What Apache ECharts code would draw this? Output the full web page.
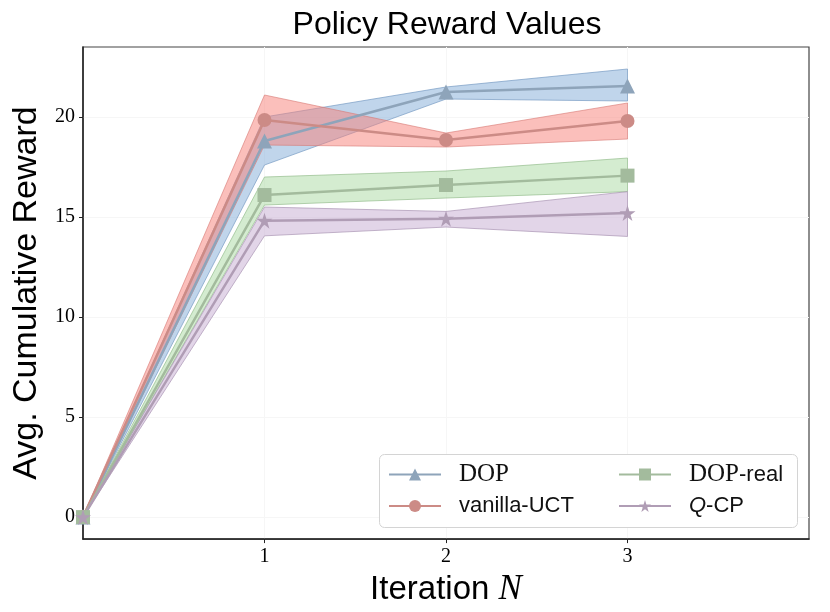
<!DOCTYPE html>
<html>
<head>
<meta charset="utf-8">
<script src="https://cdn.jsdelivr.net/npm/echarts@6/dist/echarts.min.js"></script>
<style>
  html, body { margin: 0; padding: 0; background: #fff; }
  #chart { width: 830px; height: 612px; }
</style>
</head>
<body>
<div id="chart"></div>
<script>
// data
var iterations = [0, 1, 2, 3];

var dopMean  = [0, 18.8, 21.25, 21.55];
var dopLow   = [0, 17.6, 20.9, 20.8];
var dopHigh  = [0, 20.0, 21.5, 22.4];

var uctMean  = [0, 19.85, 18.85, 19.8];
var uctLow   = [0, 18.6, 18.5, 18.9];
var uctHigh  = [0, 21.1, 19.2, 20.7];

var realMean = [0, 16.1, 16.6, 17.07];
var realLow  = [0, 15.6, 15.95, 16.27];
var realHigh = [0, 17.0, 17.3, 17.95];

var qcpMean  = [0, 14.82, 14.92, 15.2];
var qcpLow   = [0, 14.06, 14.5, 14.03];
var qcpHigh  = [0, 15.5, 15.28, 16.27];

var xTickValues = [1, 2, 3];
var yTickValues = [0, 5, 10, 15, 20];

var starPath = 'path://M0,-10 L2.245,-3.09 L9.511,-3.09 L3.633,1.18 L5.878,8.09 L0,3.82 L-5.878,8.09 L-3.633,1.18 L-9.511,-3.09 L-2.245,-3.09 Z';

var sans = 'Liberation Sans';
var serif = 'Liberation Serif';

var toPoints = function (ys) {
    return iterations.map(function (x, i) { return [x, ys[i]]; });
};

// shaded band between low and high, one polygon through the axes' scales
var bandSeries = function (lo, hi, fill, edge) {
    return {
        type: 'custom',
        silent: true,
        clip: true,
        z: 1,
        data: [[0, 0]],
        renderItem: function (params, api) {
            var pts = [];
            for (var i = 0; i < iterations.length; i++) {
                pts.push(api.coord([iterations[i], lo[i]]));
            }
            for (var j = iterations.length - 1; j >= 0; j--) {
                pts.push(api.coord([iterations[j], hi[j]]));
            }
            return {
                type: 'polygon',
                shape: { points: pts },
                style: { fill: fill, stroke: edge, lineWidth: 1 }
            };
        }
    };
};

var lineSeries = function (name, ys, color, symbol, size) {
    return {
        name: name,
        type: 'line',
        data: toPoints(ys),
        symbol: symbol,
        symbolSize: size,
        clip: true,
        z: 3,
        lineStyle: { color: color, width: 2.5 },
        itemStyle: { color: color }
    };
};

var legendNames = {
    'DOP': '{rmp|DOP}',
    'vanilla-UCT': '{sfp|vanilla-UCT}',
    'DOP-real': '{rmp|DOP}{sf|-real}',
    'Q-CP': '{itp|Q}{sf|-CP}'
};

var legendText = {
    color: '#111',
    rich: {
        rmp: { fontFamily: serif, fontSize: 25, lineHeight: 20, padding: [0, 0, 0, 13] },
        sfp: { fontFamily: sans, fontSize: 22, lineHeight: 20, padding: [0, 0, 0, 13] },
        itp: { fontFamily: sans, fontStyle: 'italic', fontSize: 22, lineHeight: 20, padding: [0, 0, 0, 13] },
        sf: { fontFamily: sans, fontSize: 22, lineHeight: 20 }
    }
};

var makeLegend = function (names, left) {
    return {
        orient: 'vertical',
        left: left,
        top: 462,
        padding: 0,
        itemGap: 8,
        itemWidth: 52,
        itemHeight: 15,
        z: 10,
        data: names,
        formatter: function (name) { return legendNames[name]; },
        textStyle: legendText
    };
};

var chart = echarts.init(document.getElementById('chart'));
var option = {
    backgroundColor: '#ffffff',
    animation: false,
    title: {
        text: 'Policy Reward Values',
        left: 447,
        top: 9,
        padding: 0,
        textAlign: 'center',
        textStyle: { fontFamily: sans, fontSize: 32, fontWeight: 'normal', color: '#000' }
    },
    grid: {
        left: 83,
        right: 21,
        top: 47,
        bottom: 72,
        show: true,
        borderColor: '#444',
        borderWidth: 1.2,
        containLabel: false
    },
    graphic: [{
        type: 'rect',
        z: 3,
        silent: true,
        shape: { x: 379.5, y: 454.5, width: 418, height: 73, r: 5 },
        style: { fill: '#ffffff', stroke: '#d4d4d4', lineWidth: 1 }
    }],
    legend: [
        makeLegend(['DOP', 'vanilla-UCT'], 388),
        makeLegend(['DOP-real', 'Q-CP'], 618)
    ],
    xAxis: {
        type: 'value',
        min: 0,
        max: 4,
        interval: 1,
        name: 'Iteration {n|N}',
        nameLocation: 'middle',
        nameGap: 28,
        nameTextStyle: {
            fontFamily: sans, fontSize: 33, color: '#000',
            rich: { n: { fontFamily: serif, fontStyle: 'italic', fontSize: 35 } }
        },
        axisLine: { show: true, onZero: false, lineStyle: { color: '#222', width: 1.5 } },
        axisTick: { show: true, inside: false, length: 4, customValues: xTickValues, lineStyle: { color: '#222' } },
        axisLabel: { customValues: xTickValues, margin: 8, fontFamily: serif, fontSize: 20, color: '#000' },
        splitLine: { show: true, lineStyle: { color: '#f6f6f6', width: 1 } }
    },
    yAxis: {
        type: 'value',
        min: -1.1,
        max: 23.5,
        name: 'Avg. Cumulative Reward',
        nameLocation: 'middle',
        nameGap: 28,
        nameTextStyle: { fontFamily: sans, fontSize: 34, color: '#000' },
        axisLine: { show: true, onZero: false, lineStyle: { color: '#222', width: 1.5 } },
        axisTick: { show: true, inside: false, length: 4, customValues: yTickValues, lineStyle: { color: '#222' } },
        axisLabel: { customValues: yTickValues, margin: 8, fontFamily: serif, fontSize: 20, color: '#000' },
        splitLine: { show: true, lineStyle: { color: '#f6f6f6', width: 1 } }
    },
    series: [
        bandSeries(dopLow, dopHigh, 'rgba(130,172,216,0.5)', 'rgba(120,155,195,0.7)'),
        bandSeries(uctLow, uctHigh, 'rgba(247,128,120,0.5)', 'rgba(215,120,115,0.6)'),
        bandSeries(realLow, realHigh, 'rgba(170,218,162,0.5)', 'rgba(150,190,142,0.7)'),
        bandSeries(qcpLow, qcpHigh, 'rgba(198,172,210,0.5)', 'rgba(170,148,180,0.7)'),
        lineSeries('DOP', dopMean, '#8ea4ba', 'triangle', 15),
        lineSeries('vanilla-UCT', uctMean, '#cc8b86', 'circle', 14),
        lineSeries('DOP-real', realMean, '#a3bb9d', 'rect', 14),
        lineSeries('Q-CP', qcpMean, '#b09db5', starPath, 16)
    ]
};
chart.setOption(option);
</script>
</body>
</html>
